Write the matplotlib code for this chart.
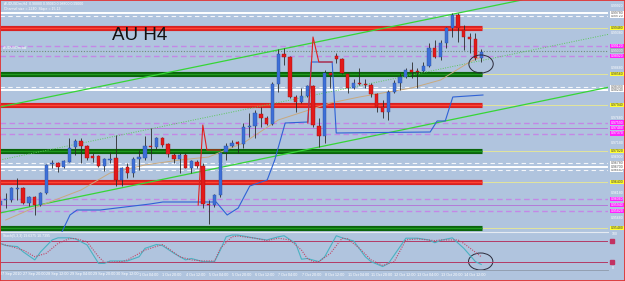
import numpy as np
import matplotlib.pyplot as plt
import matplotlib.transforms as mtransforms
from matplotlib.patches import Ellipse, Rectangle

# AUDUSD H4 candles, 27 Sep 04:00 -> 15 Oct 00:00
opens = [0.9594, 0.9604, 0.9604, 0.9626, 0.9628, 0.9598, 0.9610, 0.9594, 0.9618, 0.9676,
         0.9678, 0.9670, 0.9680, 0.9710, 0.9722, 0.9712, 0.9692, 0.9692, 0.9672, 0.9684,
         0.9688, 0.9644, 0.9670, 0.9658, 0.9686, 0.9688, 0.9712, 0.9710, 0.9728, 0.9716,
         0.9694, 0.9686, 0.9694, 0.9668, 0.9680, 0.9672, 0.9596, 0.9594, 0.9614, 0.9700,
         0.9712, 0.9720, 0.9716, 0.9750, 0.9752, 0.9776, 0.9768, 0.9756, 0.9836, 0.9896,
         0.9890, 0.9810, 0.9800, 0.9812, 0.9832, 0.9752, 0.9732, 0.9858, 0.9892, 0.9886,
         0.9856, 0.9828, 0.9838, 0.9836, 0.9834, 0.9816, 0.9790, 0.9780, 0.9820, 0.9838,
         0.9850, 0.9864, 0.9862, 0.9862, 0.9872, 0.9908, 0.9890, 0.9918, 0.9948, 0.9974,
         0.9944, 0.9930, 0.9926, 0.9888]
highs = [0.9612, 0.9618, 0.9630, 0.9648, 0.9630, 0.9612, 0.9612, 0.9620, 0.9676, 0.9684,
         0.9680, 0.9684, 0.9728, 0.9726, 0.9728, 0.9714, 0.9698, 0.9694, 0.9688, 0.9700,
         0.9734, 0.9670, 0.9678, 0.9690, 0.9704, 0.9732, 0.9748, 0.9730, 0.9730, 0.9718,
         0.9698, 0.9698, 0.9698, 0.9684, 0.9684, 0.9678, 0.9604, 0.9616, 0.9700, 0.9718,
         0.9724, 0.9722, 0.9758, 0.9778, 0.9784, 0.9790, 0.9772, 0.9840, 0.9906, 0.9908,
         0.9892, 0.9814, 0.9828, 0.9834, 0.9834, 0.9768, 0.9864, 0.9860, 0.9898, 0.9888,
         0.9858, 0.9846, 0.9868, 0.9846, 0.9838, 0.9818, 0.9804, 0.9824, 0.9844, 0.9858,
         0.9868, 0.9880, 0.9868, 0.9880, 0.9918, 0.9924, 0.9924, 0.9950, 0.9978, 0.9978,
         0.9954, 0.9938, 0.9938, 0.9906]
lows = [0.9580, 0.9588, 0.9600, 0.9604, 0.9596, 0.9592, 0.9574, 0.9592, 0.9616, 0.9668,
        0.9660, 0.9668, 0.9680, 0.9694, 0.9678, 0.9684, 0.9680, 0.9670, 0.9662, 0.9678,
        0.9632, 0.9632, 0.9648, 0.9650, 0.9664, 0.9684, 0.9684, 0.9706, 0.9710, 0.9690,
        0.9678, 0.9658, 0.9668, 0.9658, 0.9668, 0.9588, 0.9556, 0.9590, 0.9610, 0.9684,
        0.9710, 0.9698, 0.9708, 0.9730, 0.9728, 0.9750, 0.9754, 0.9754, 0.9820, 0.9874,
        0.9808, 0.9780, 0.9798, 0.9810, 0.9750, 0.9710, 0.9718, 0.9828, 0.9878, 0.9856,
        0.9818, 0.9826, 0.9834, 0.9828, 0.9810, 0.9780, 0.9768, 0.9764, 0.9818, 0.9824,
        0.9848, 0.9848, 0.9828, 0.9860, 0.9870, 0.9888, 0.9884, 0.9908, 0.9930, 0.9920,
        0.9904, 0.9898, 0.9884, 0.9880]
closes = [0.9602, 0.9606, 0.9628, 0.9628, 0.9598, 0.9610, 0.9594, 0.9618, 0.9674, 0.9678,
          0.9670, 0.9682, 0.9708, 0.9722, 0.9712, 0.9688, 0.9688, 0.9672, 0.9686, 0.9686,
          0.9644, 0.9668, 0.9658, 0.9686, 0.9690, 0.9712, 0.9710, 0.9728, 0.9714, 0.9696,
          0.9686, 0.9694, 0.9668, 0.9682, 0.9672, 0.9596, 0.9594, 0.9614, 0.9698, 0.9712,
          0.9718, 0.9716, 0.9750, 0.9752, 0.9778, 0.9768, 0.9756, 0.9836, 0.9896, 0.9890,
          0.9810, 0.9800, 0.9812, 0.9832, 0.9754, 0.9732, 0.9858, 0.9854, 0.9886, 0.9858,
          0.9828, 0.9838, 0.9836, 0.9834, 0.9816, 0.9790, 0.9780, 0.9820, 0.9838, 0.9850,
          0.9864, 0.9860, 0.9860, 0.9872, 0.9908, 0.9890, 0.9918, 0.9948, 0.9974, 0.9948,
          0.9930, 0.9926, 0.9888, 0.9900]

# moving average (tan), blue and red indicator lines: (bar, price) vertices
ma_bar = [1, 5, 14, 19, 25, 31, 36, 42, 48, 57, 62, 71, 76, 81, 83]
ma_val = [0.9564, 0.9584, 0.9624, 0.9658, 0.9674, 0.9684, 0.9690, 0.9718, 0.9764, 0.9798,
          0.9810, 0.9828, 0.9844, 0.9880, 0.9890]
blue_bar = [10.7, 12.1, 13.3, 17.3, 25.9, 28.1, 37.3, 39.2, 41.1, 43.1, 46.1, 47.4, 49.2,
            53.1, 53.7, 57.3, 58.0, 74.2, 75.4, 76.8, 78.1, 83.3]
blue_val = [0.9540, 0.9574, 0.9584, 0.9584, 0.9596, 0.9600, 0.9600, 0.9574, 0.9588, 0.9632,
            0.9644, 0.9684, 0.9758, 0.9760, 0.9880, 0.9880, 0.9738, 0.9740, 0.9762, 0.9762,
            0.9810, 0.9814]
red_bar = [34.2, 35.0, 35.7, 38.0, np.nan, 53.1, 54.0, 55.0, 57.3]
red_val = [0.9594, 0.9754, 0.9704, 0.9704, np.nan, 0.9758, 0.9930, 0.9880, 0.9880]

# channel anchors (bar, price)
chan_upper = [(0.0, 0.9790), (88.3, 1.0000)]
chan_lower = [(0.0, 0.9578), (104.3, 0.9828)]
chan_mid = [(0.0, 0.9684), (105.2, 0.9936)]

# horizontal levels
red_levels = [0.9948, 0.9794, 0.9640]
green_levels = [0.9856, 0.9702, 0.9548]
purple_dashed = [0.9912, 0.9892, 0.9759, 0.9737, 0.9606, 0.9582]
purple_solid = [0.9748, 0.9594]
bid_level = [0.9903]
white_dashed = [0.9972, 0.9830, 0.9678, 0.9664]
white_solid = [0.9978, 0.9824, 0.9670]
price_ticks = [0.9568, 0.9618, 0.9690, 0.9718, 0.9768, 0.9868, 0.9938, 0.9992]

# stochastic (bar, value)
stoch_k_bar = [0, 1, 3, 4, 6, 7, 9, 10, 12, 13, 15, 17, 18, 19, 22, 24, 25, 27, 28, 30,
               32, 33, 35, 37, 38, 39, 40, 41, 44, 46, 48, 49, 51, 52, 53, 55, 56, 58, 59, 61,
               63, 64, 66, 67, 70, 72, 74, 75, 76, 78, 80, 82, 83]
stoch_k = [73, 67, 64, 49, 26, 49, 83, 89, 89, 86, 69, 16, 16, 23, 23, 35, 59, 70, 67, 45,
           26, 30, 21, 21, 54, 92, 97, 97, 88, 83, 92, 95, 73, 28, 30, 21, 35, 95, 89, 80,
           35, 21, 7, 16, 88, 88, 83, 75, 82, 89, 59, 21, 13]
stoch_d_bar = [0, 2, 4, 6, 8, 10, 12, 13, 15, 17, 18, 21, 22, 25, 28, 29, 31, 33, 35, 37,
               38, 40, 41, 44, 46, 48, 50, 52, 53, 54, 55, 57, 59, 60, 62, 64, 66, 68, 70, 72,
               75, 76, 79, 80, 83]
stoch_d = [73, 64, 54, 35, 45, 73, 87, 87, 78, 35, 19, 21, 26, 54, 70, 59, 35, 26, 23, 23,
           59, 92, 94, 88, 81, 88, 83, 54, 30, 21, 21, 45, 88, 86, 59, 26, 10, 21, 83, 86,
           81, 83, 83, 73, 35]
stoch_levels = [80, 20]

time_bars = list(range(0, 84, 4))
time_labels = ['27 Sep 2010', '27 Sep 20:00', '28 Sep 12:00', '29 Sep 04:00', '29 Sep 20:00',
               '30 Sep 12:00', '1 Oct 04:00', '1 Oct 20:00', '4 Oct 12:00', '5 Oct 04:00',
               '5 Oct 20:00', '6 Oct 12:00', '7 Oct 04:00', '7 Oct 20:00', '8 Oct 12:00',
               '11 Oct 04:00', '11 Oct 20:00', '12 Oct 12:00', '13 Oct 04:00', '13 Oct 20:00',
               '14 Oct 12:00']

BG = '#b0c4de'
W, H = 625, 281
XL = (0.03, 104.86)
band_end = 83.1
SMALL = dict(family='Liberation Sans', fontsize=2.5)

fig = plt.figure(figsize=(W / 100, H / 100), dpi=100, facecolor=BG)
ax = fig.add_axes([0, 49 / H, 608 / W, 232 / H])
ax2 = fig.add_axes([0, 11 / H, 608 / W, 38 / H])
for a in (ax, ax2):
    a.set_facecolor(BG)
    a.set_xlim(*XL)
    for s in a.spines.values():
        s.set_visible(False)
ax.set_ylim(0.9540, 1.0004)
ax.set_xticks([])
ax.set_yticks([])
ax2.set_ylim(-2.86, 105.7)
ax2.set_yticks([])

# horizontal levels
ax.hlines(white_solid, *XL, color='white', lw=1.4, zorder=1)
ax.hlines(white_dashed, *XL, color='#f4f6fa', lw=0.8, linestyles=(0, (4, 3)), zorder=1)
ax.hlines(purple_dashed, *XL, color='#c487e6', lw=1.0, linestyles=(0, (4, 2.5)), zorder=1)
ax.hlines(purple_solid, *XL, color='#b47ad8', lw=0.7, zorder=1)
ax.hlines(bid_level, *XL, color='#6f8c7a', lw=0.8, linestyles=(0, (1, 1.5)), zorder=1)
ax.hlines(red_levels + green_levels, band_end, XL[1], color='#e2e59a', lw=0.7, zorder=1)
ax.hlines(red_levels, XL[0], band_end, color='#d92020', lw=3.7, zorder=2)
ax.hlines(red_levels, XL[0], band_end, color='#ff4433', lw=1.0, zorder=2)
ax.hlines(green_levels, XL[0], band_end, color='#0a640a', lw=3.7, zorder=2)
ax.hlines(green_levels, XL[0], band_end, color='#1f9a1f', lw=1.0, zorder=2)

# channel
ax.axline(*chan_upper, color='#36d636', lw=0.9, zorder=3)
ax.axline(*chan_lower, color='#36d636', lw=0.9, zorder=3)
ax.axline(*chan_mid, color='#5cc85c', lw=0.7, ls=(0, (1, 1.5)), zorder=3)

# indicator lines
ax.plot(ma_bar, ma_val, color='#c9a97e', lw=0.7, zorder=3)
ax.plot(blue_bar, blue_val, color='#2f62d6', lw=0.8, zorder=3)
ax.plot(red_bar, red_val, color='#e0201e', lw=0.8, zorder=3)

# candles
o = np.array(opens)
c = np.array(closes)
idx = np.arange(len(o))
up = c >= o
ax.vlines(idx, lows, highs, color='#2a2a2a', lw=0.6, zorder=4)
body = np.maximum(np.abs(c - o), 0.0002)
ax.bar(idx, body, bottom=np.minimum(o, c), width=0.58,
       color=np.where(up, '#3d6fd8', '#e21a1a'),
       edgecolor=np.where(up, '#2b4f9e', '#a31010'), lw=0.3, zorder=5)

ax.add_patch(Ellipse((82.97, 0.9876), 4.2, 0.0036, fill=False, ec='#2a2a3a', lw=0.7, zorder=8))

# right price scale
tr = mtransforms.blended_transform_factory(ax.transAxes, ax.transData)
for p in price_ticks:
    ax.text(1.004, p, f'{p:.5f}', transform=tr, color='white',
            va='center', ha='left', clip_on=False, **SMALL)
box_sets = [(red_levels + green_levels, '#ffff33', '#333333'),
            (purple_dashed + purple_solid, '#ff22ff', 'white'),
            (white_dashed + white_solid, 'white', '#555555'),
            (bid_level, '#9aa8b8', 'white')]
for levels, fc, tc in box_sets:
    for p in levels:
        ax.text(1.004, p, f'{p:.5f}', transform=tr, color=tc, va='center',
                ha='left', clip_on=False,
                bbox=dict(boxstyle='square,pad=0.12', fc=fc, ec='none'), **SMALL)

# stochastic panel
ax2.spines['top'].set_visible(True)
ax2.spines['bottom'].set_visible(True)
ax2.spines['top'].set_color('#e6ebf2')
ax2.spines['bottom'].set_color('#8e9aaa')
ax2.spines['top'].set_linewidth(0.8)
ax2.spines['bottom'].set_linewidth(0.6)
ax2.hlines(stoch_levels, *XL, color='#b43a66', lw=0.7)
ax2.plot([105.5, 105.5], stoch_levels, 's', ms=2.4, color='#c23262', clip_on=False)
ax2.plot(stoch_k_bar, stoch_k, color='#4ab2c2', lw=0.8)
ax2.plot(stoch_d_bar, stoch_d, color='#c04868', lw=0.8, ls=(0, (1, 1.2)))
ax2.add_patch(Ellipse((82.9, 21.4), 4.2, 48.6, fill=False, ec='#2a2a3a', lw=0.7))
tr2 = mtransforms.blended_transform_factory(ax2.transAxes, ax2.transData)
ax2.text(1.006, 100, '100', transform=tr2, color='white', va='center', clip_on=False, **SMALL)
ax2.text(1.006, 2, '0', transform=tr2, color='white', va='center', clip_on=False, **SMALL)
ax2.text(0.005, 95, 'Stoch(5,3,3) 19.6375 10.7395', transform=tr2,
         color='white', va='center', **SMALL)

ax2.set_xticks(time_bars)
ax2.set_xticklabels(time_labels, color='white', ha='left', family='Liberation Sans', fontsize=2.7)
ax2.tick_params(axis='x', length=0, pad=1.8)

# texts
fig.text(4 / W, 1 - 4 / H, 'AUDUSDm,H4  0.98880 0.99060 0.98800 0.99000',
         color='white', va='center', **SMALL)
fig.text(4 / W, 1 - 9 / H, 'Channel size = 2240  Slope = 15.13',
         color='white', va='center', **SMALL)
fig.text(3 / W, 1 - 48 / H, 'AUDUSDm bid', color='white', va='center', **SMALL)
fig.text(112 / W, 1 - 40 / H, 'AU H4', fontsize=13.5, family='Liberation Sans',
         color='#111111', va='baseline')

fig.add_artist(Rectangle((0, 0), 1, 1, transform=fig.transFigure, fill=False,
                         ec='#e03434', lw=1.3))

fig.savefig('out.png', dpi=100, facecolor=BG)
